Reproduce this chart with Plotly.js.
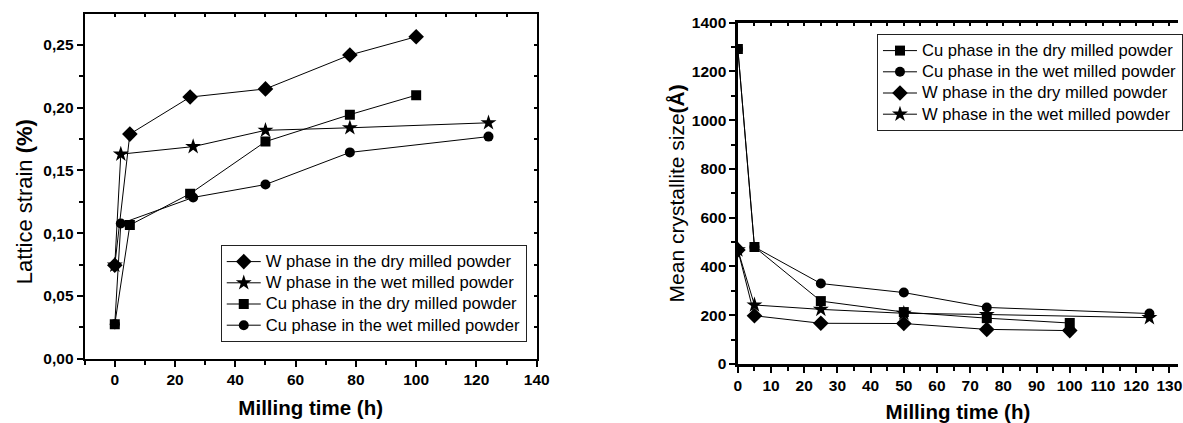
<!DOCTYPE html>
<html>
<head>
<meta charset="utf-8">
<script src="https://cdn.plot.ly/plotly-3.0.1.min.js"></script>
<style>html,body{margin:0;padding:0;background:#fff;}#chart{width:1183px;height:423px;}</style>
</head>
<body>
<div id="chart"></div>
<script>
// ---- Left chart: lattice strain (%) vs milling time (h)
const timeWDryL = [0, 5, 25, 50, 78, 100];
const strainWDry = [0.0745, 0.179, 0.2085, 0.215, 0.242, 0.2566];
const timeWWetL = [0, 2, 26, 50, 78, 124];
const strainWWet = [0.0745, 0.163, 0.169, 0.182, 0.184, 0.188];
const timeCuDryL = [0, 5, 25, 50, 78, 100];
const strainCuDry = [0.0275, 0.1065, 0.1315, 0.173, 0.1945, 0.210];
const timeCuWetL = [0, 2, 26, 50, 78, 124];
const strainCuWet = [0.0275, 0.1077, 0.1285, 0.1388, 0.1644, 0.177];

// ---- Right chart: mean crystallite size (Å) vs milling time (h)
const timeDryR = [0, 5, 25, 50, 75, 100];
const timeWetR = [0, 5, 25, 50, 75, 124];
const sizeCuDry = [1292, 480, 258, 213, 188, 168];
const sizeCuWet = [1292, 480, 330, 293, 232, 207];
const sizeWDry = [468, 198, 167, 166, 142, 137];
const sizeWWet = [468, 242, 224, 208, 203, 190];

const labelWDry = "W phase in the dry milled powder";
const labelWWet = "W phase in the wet milled powder";
const labelCuDry = "Cu phase in the dry milled powder";
const labelCuWet = "Cu phase in the wet milled powder";

const FONT = "Liberation Sans, Arial, Helvetica, sans-serif";
const W = 1183, H = 423;
const px = v => v / W;
const py = v => 1 - v / H;
const big = s => '<span style="font-size:16.6px">' + s + '</span>';

function series(x, y, name, symbol, size, xa, ya, legend) {
  return {
    x: x, y: y, name: big(name), type: "scatter", mode: "lines+markers",
    xaxis: xa, yaxis: ya, legend: legend,
    line: {color: "#000", width: 1},
    marker: {symbol: symbol, size: size, color: "#000"},
    hoverinfo: "x+y"
  };
}

const traces = [
  series(timeWDryL, strainWDry, labelWDry, "diamond", 12, "x", "y", "legend"),
  series(timeWWetL, strainWWet, labelWWet, "star", 12, "x", "y", "legend"),
  series(timeCuDryL, strainCuDry, labelCuDry, "square", 10, "x", "y", "legend"),
  series(timeCuWetL, strainCuWet, labelCuWet, "circle", 10, "x", "y", "legend"),
  series(timeDryR, sizeCuDry, labelCuDry, "square", 10, "x2", "y2", "legend2"),
  series(timeWetR, sizeCuWet, labelCuWet, "circle", 10, "x2", "y2", "legend2"),
  series(timeDryR, sizeWDry, labelWDry, "diamond", 12, "x2", "y2", "legend2"),
  series(timeWetR, sizeWWet, labelWWet, "star", 12, "x2", "y2", "legend2"),
  // empty helpers so the inside-tick overlay axes are drawn
  {x: [], y: [], type: "scatter", mode: "markers", xaxis: "x3", yaxis: "y", showlegend: false, hoverinfo: "skip"},
  {x: [], y: [], type: "scatter", mode: "markers", xaxis: "x", yaxis: "y3", showlegend: false, hoverinfo: "skip"},
  {x: [], y: [], type: "scatter", mode: "markers", xaxis: "x4", yaxis: "y2", showlegend: false, hoverinfo: "skip"}
];

const tickFont = {family: FONT, size: 15.5, color: "#000", weight: "bold"};
const xTitleFont = {family: FONT, size: 20.5, color: "#000", weight: "bold"};
const yTitleFont = {family: FONT, size: 21, color: "#000"};
const yTitleFontL = {family: FONT, size: 22, color: "#000"};

const leftX = [-10, 140];
const leftY = [0, 0.2747];
const rightX = [0, (W - 741) / 3.333];
const rightY = [0, 1400];

const layout = {
  width: W, height: H,
  margin: {l: 0, r: 0, t: 0, b: 0},
  paper_bgcolor: "#fff", plot_bgcolor: "#fff",
  separators: ",.",
  font: {family: FONT, color: "#000"},
  xaxis: {
    domain: [px(85), px(539)], anchor: "y", range: leftX, autorange: false,
    tick0: 0, dtick: 20, ticks: "outside", ticklen: 6, tickwidth: 2, tickcolor: "#000",
    minor: {dtick: 10, tick0: 0, ticks: "outside", ticklen: 4, tickwidth: 2, tickcolor: "#000", showgrid: false},
    showline: true, linewidth: 2, linecolor: "#000", mirror: true,
    showgrid: false, zeroline: false, tickfont: tickFont, automargin: false,
    title: {text: "Milling time (h)", font: xTitleFont, standoff: 13}
  },
  yaxis: {
    domain: [py(358.7), py(14)], anchor: "x", range: leftY, autorange: false,
    tick0: 0, dtick: 0.05, tickformat: ".2f", ticks: "outside", ticklen: 6, tickwidth: 2, tickcolor: "#000",
    minor: {dtick: 0.025, tick0: 0, ticks: "outside", ticklen: 4, tickwidth: 2, tickcolor: "#000", showgrid: false},
    showline: true, linewidth: 2, linecolor: "#000", mirror: true,
    showgrid: false, zeroline: false, tickfont: tickFont, automargin: false,
    title: {text: "Lattice strain <b>(%)</b><span>&nbsp;&nbsp;&nbsp;&nbsp;&nbsp;</span>", font: yTitleFontL, standoff: 5}
  },
  xaxis3: {
    overlaying: "x", anchor: "y", side: "top", range: leftX, autorange: false,
    tick0: 0, dtick: 10, ticks: "inside", ticklen: 3, tickwidth: 2, tickcolor: "#000",
    showticklabels: false, showgrid: false, zeroline: false, showline: false
  },
  yaxis3: {
    overlaying: "y", anchor: "x", side: "right", range: leftY, autorange: false,
    tick0: 0, dtick: 0.025, ticks: "inside", ticklen: 3, tickwidth: 2, tickcolor: "#000",
    showticklabels: false, showgrid: false, zeroline: false, showline: false
  },
  xaxis2: {
    domain: [px(741), 1], anchor: "y2", range: rightX, autorange: false,
    tick0: 0, dtick: 10, ticks: "outside", ticklen: 6, tickwidth: 2, tickcolor: "#000",
    minor: {dtick: 5, tick0: 0, ticks: "outside", ticklen: 4, tickwidth: 2, tickcolor: "#000", showgrid: false},
    showline: true, linewidth: 2.5, linecolor: "#000", mirror: true,
    showgrid: false, zeroline: false, tickfont: tickFont, automargin: false,
    ticklabeloverflow: "allow",
    title: {text: "Milling time (h)", font: xTitleFont, standoff: 25}
  },
  yaxis2: {
    domain: [py(364), py(22.7)], anchor: "x2", range: rightY, autorange: false,
    tick0: 0, dtick: 200, ticks: "outside", ticklen: 6, tickwidth: 2, tickcolor: "#000",
    minor: {dtick: 100, tick0: 0, ticks: "outside", ticklen: 4, tickwidth: 2, tickcolor: "#000", showgrid: false},
    showline: true, linewidth: 2.5, linecolor: "#000", mirror: false,
    showgrid: false, zeroline: false, tickfont: tickFont, automargin: false,
    title: {text: "Mean crystallite size<b>(Å)</b>", font: yTitleFont, standoff: 2}
  },
  xaxis4: {
    overlaying: "x2", anchor: "y2", side: "top", range: rightX, autorange: false,
    tick0: 0, dtick: 5, ticks: "inside", ticklen: 3, tickwidth: 2, tickcolor: "#000",
    showticklabels: false, showgrid: false, zeroline: false, showline: false
  },
  legend: {
    x: px(221.7), y: py(245), xanchor: "left", yanchor: "top",
    bgcolor: "#fff", bordercolor: "#222", borderwidth: 1,
    font: {family: FONT, size: 14, color: "#000"},
    itemwidth: 34, tracegroupgap: 0, itemclick: false
  },
  legend2: {
    x: px(880.7), y: py(34), xanchor: "left", yanchor: "top",
    bgcolor: "#fff", bordercolor: "#222", borderwidth: 1,
    font: {family: FONT, size: 14, color: "#000"},
    itemwidth: 34, tracegroupgap: 0, itemclick: false
  },
  showlegend: true
};

Plotly.newPlot("chart", traces, layout, {displayModeBar: false, staticPlot: true});
</script>
</body>
</html>
